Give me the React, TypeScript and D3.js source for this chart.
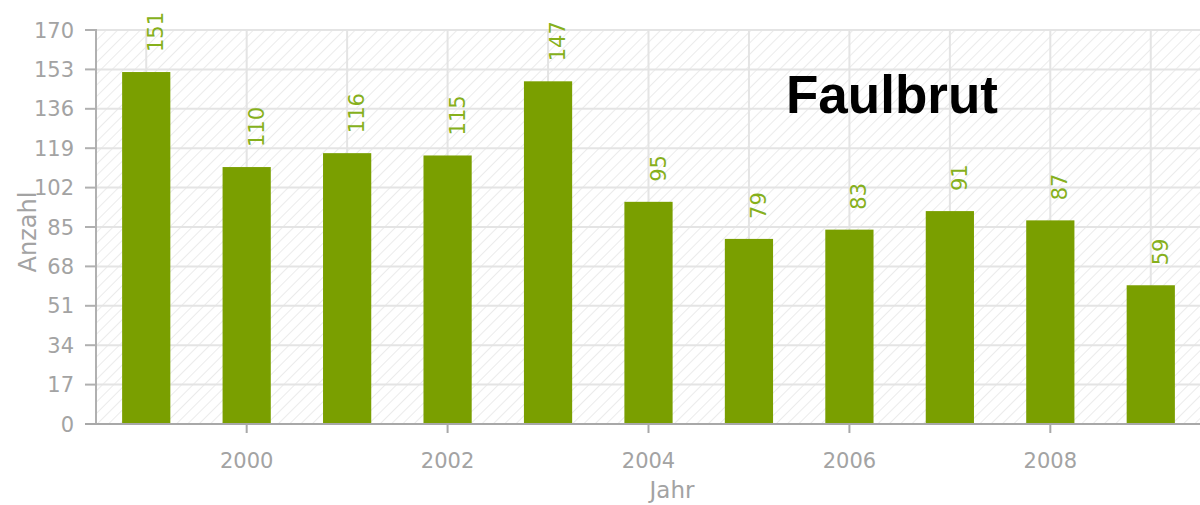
import React from "react";
import * as d3 from "d3";

const years = [1999, 2000, 2001, 2002, 2003, 2004, 2005, 2006, 2007, 2008, 2009];
const counts = [151, 110, 116, 115, 147, 95, 79, 83, 91, 87, 59];
const yTicks = [0, 17, 34, 51, 68, 85, 102, 119, 136, 153, 170];
const xTickYears = [2000, 2002, 2004, 2006, 2008];
const title = "Faulbrut";
const xTitle = "Jahr";
const yTitle = "Anzahl";

const W = 1200;
const H = 505;
const left = 96;
const right = 1201;
const top = 30;
const bottom = 424;

export default function App() {
  const x = d3
    .scaleBand<number>()
    .domain(years)
    .range([left, right])
    .paddingInner(0.52)
    .paddingOuter(0.26);
  const y = d3.scaleLinear().domain([0, 170]).range([bottom, top]);
  const font = "'DejaVu Sans', Verdana, sans-serif";
  const gray = "#a3a3a3";
  const green = "#7a9f00";
  const labelGreen = "#86b01c";

  return (
    <svg
      width={W}
      height={H}
      style={{ position: "absolute", left: 0, top: 0 }}
      xmlns="http://www.w3.org/2000/svg"
    >
      <defs>
        <pattern id="hatch" width="8" height="8" patternUnits="userSpaceOnUse" patternTransform="rotate(45)">
          <line x1="0" y1="0" x2="0" y2="8" stroke="#e9e9e9" strokeWidth="1.8" />
        </pattern>
      </defs>
      <rect x={0} y={0} width={W} height={H} fill="#fff" />
      <rect x={left} y={top} width={right - left} height={bottom - top} fill="url(#hatch)" />
      {yTicks.map((t) => (
        <line key={"hg" + t} x1={left} x2={right} y1={y(t)} y2={y(t)} stroke="#e4e4e4" strokeWidth={2} />
      ))}
      {years.map((yr) => {
        const cx = (x(yr) as number) + x.bandwidth() / 2;
        return <line key={"vg" + yr} x1={cx} x2={cx} y1={top} y2={bottom} stroke="#e4e4e4" strokeWidth={2} />;
      })}
      {years.map((yr, i) => (
        <rect
          key={"b" + yr}
          x={x(yr) as number}
          y={y(counts[i]) - 2}
          width={x.bandwidth()}
          height={bottom - y(counts[i]) + 2}
          fill={green}
        />
      ))}
      {years.map((yr, i) => {
        const cx = (x(yr) as number) + x.bandwidth() / 2;
        const ty = y(counts[i]) - 22;
        return (
          <text
            key={"l" + yr}
            transform={`translate(${cx + 17},${ty}) rotate(-90)`}
            fill={labelGreen}
            fontFamily={font}
            fontSize={21}
          >
            {counts[i]}
          </text>
        );
      })}
      <line x1={left} x2={left} y1={top - 1} y2={bottom} stroke="#b0b0b0" strokeWidth={2} />
      {yTicks.map((t) => (
        <g key={"yt" + t}>
          <line x1={85} x2={left} y1={y(t)} y2={y(t)} stroke="#b0b0b0" strokeWidth={2} />
          <text
            x={74}
            y={y(t)}
            dy="0.36em"
            textAnchor="end"
            fill={gray}
            fontFamily={font}
            fontSize={21}
          >
            {t}
          </text>
        </g>
      ))}
      <line x1={85} x2={right} y1={bottom} y2={bottom} stroke="#a8a8a8" strokeWidth={2} />
      {xTickYears.map((yr) => {
        const cx = (x(yr) as number) + x.bandwidth() / 2;
        return (
          <g key={"xt" + yr}>
            <line x1={cx} x2={cx} y1={bottom} y2={bottom + 9} stroke="#a8a8a8" strokeWidth={2} />
            <text x={cx} y={468} textAnchor="middle" fill={gray} fontFamily={font} fontSize={21}>
              {yr}
            </text>
          </g>
        );
      })}
      <text x={672} y={498} textAnchor="middle" fill={gray} fontFamily={font} fontSize={23}>
        {xTitle}
      </text>
      <text
        transform={`translate(36,232) rotate(-90)`}
        textAnchor="middle"
        fill={gray}
        fontFamily={font}
        fontSize={24}
      >
        {yTitle}
      </text>
      <text
        x={786}
        y={113}
        fill="#000"
        fontFamily="'Liberation Sans', Arial, sans-serif"
        fontWeight="bold"
        fontSize={53}
      >
        {title}
      </text>
    </svg>
  );
}
